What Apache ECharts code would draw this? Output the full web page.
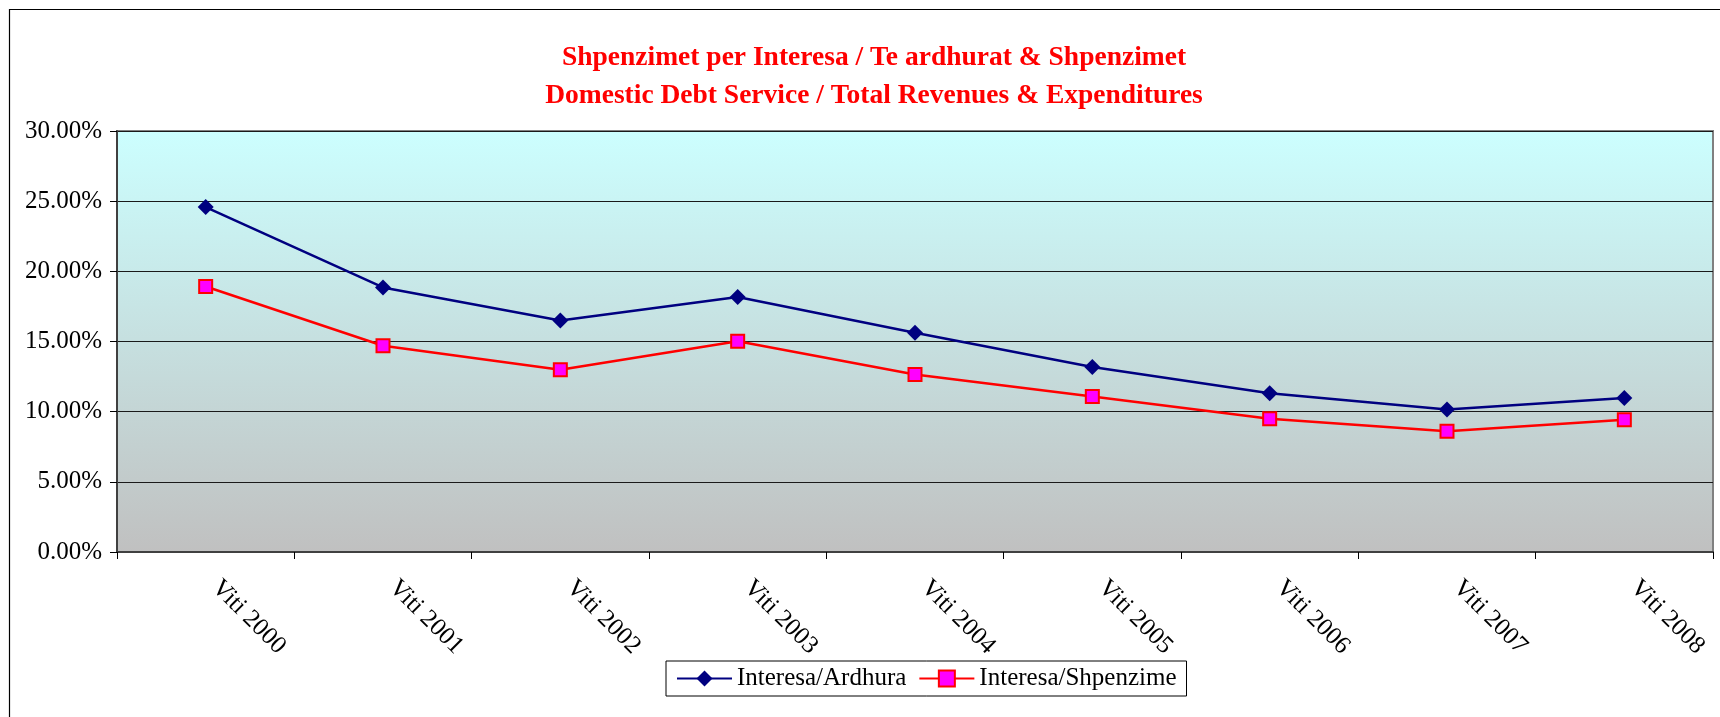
<!DOCTYPE html>
<html>
<head>
<meta charset="utf-8">
<script src="https://cdn.jsdelivr.net/npm/echarts@6/dist/echarts.min.js"></script>
<style>
  html, body { margin: 0; padding: 0; background: #fff; }
  #chart { width: 1720px; height: 717px; }
</style>
</head>
<body>
<div id="chart"></div>
<script>
// data (percent)
const years = ['Viti 2000', 'Viti 2001', 'Viti 2002', 'Viti 2003', 'Viti 2004',
  'Viti 2005', 'Viti 2006', 'Viti 2007', 'Viti 2008']
const interesaArdhura = [24.58, 18.85, 16.5, 18.17, 15.62, 13.18, 11.32, 10.16, 10.97]
const interesaShpenzime = [18.92, 14.7, 12.98, 15.02, 12.65, 11.08, 9.5, 8.6, 9.42]
const titleLines = [
  'Shpenzimet per Interesa / Te ardhurat & Shpenzimet',
  'Domestic Debt Service / Total Revenues & Expenditures'
]

const serif = "'Liberation Serif', 'Times New Roman', serif"
const chart = echarts.init(document.getElementById('chart'))

const option = {
  animation: false,
  backgroundColor: '#fff',
  title: {
    text: titleLines.join('\n'),
    left: 869,
    top: 34,
    textAlign: 'center',
    textStyle: {
      color: '#FF0000',
      fontFamily: serif,
      fontWeight: 'bold',
      fontSize: 27.5,
      lineHeight: 38
    }
  },
  graphic: [
    {
      type: 'rect',
      shape: { x: 9.5, y: 9.5, width: 1800, height: 800 },
      style: { fill: 'none', stroke: '#000', lineWidth: 1.2 },
      silent: true
    }
  ],
  grid: {
    left: 117,
    right: 7,
    top: 131,
    bottom: 165,
    show: true,
    borderColor: '#808080',
    borderWidth: 2,
    backgroundColor: {
      type: 'linear', x: 0, y: 0, x2: 0, y2: 1,
      colorStops: [
        { offset: 0, color: '#CCFFFF' },
        { offset: 1, color: '#C0C0C0' }
      ]
    }
  },
  legend: {
    left: 666,
    top: 661,
    padding: [5, 10],
    itemWidth: 55,
    itemHeight: 20,
    itemGap: 12,
    backgroundColor: '#fff',
    borderColor: '#000',
    borderWidth: 1,
    textStyle: { fontFamily: serif, fontSize: 25, color: '#000' },
    data: ['Interesa/Ardhura', 'Interesa/Shpenzime']
  },
  xAxis: {
    type: 'category',
    data: years,
    boundaryGap: true,
    axisLine: { show: true, lineStyle: { color: '#404040', width: 2 } },
    axisTick: { show: true, length: 7, lineStyle: { color: '#000' } },
    axisLabel: {
      rotate: -45,
      margin: 22,
      padding: [0, 0, 0, 14],
      interval: 0,
      fontFamily: serif,
      fontSize: 25,
      color: '#000'
    }
  },
  yAxis: {
    type: 'value',
    min: 0,
    max: 30,
    interval: 5,
    axisLine: { show: true, lineStyle: { color: '#404040', width: 2 } },
    axisTick: { show: true, length: 7, lineStyle: { color: '#000' } },
    splitLine: { show: true, lineStyle: { color: '#1a1a1a', width: 1 } },
    axisLabel: {
      margin: 15,
      fontFamily: serif,
      fontSize: 25,
      color: '#000',
      formatter: v => v.toFixed(2) + '%'
    }
  },
  series: [
    {
      name: 'Interesa/Ardhura',
      type: 'line',
      data: interesaArdhura,
      symbol: 'diamond',
      symbolSize: 16,
      lineStyle: { color: '#000080', width: 2.5 },
      itemStyle: { color: '#000080' }
    },
    {
      name: 'Interesa/Shpenzime',
      type: 'line',
      data: interesaShpenzime,
      symbol: 'rect',
      symbolSize: 13,
      lineStyle: { color: '#FF0000', width: 2.5 },
      itemStyle: { color: '#FF00FF', borderColor: '#FF0000', borderWidth: 2 }
    }
  ]
}

chart.setOption(option)
</script>
</body>
</html>
